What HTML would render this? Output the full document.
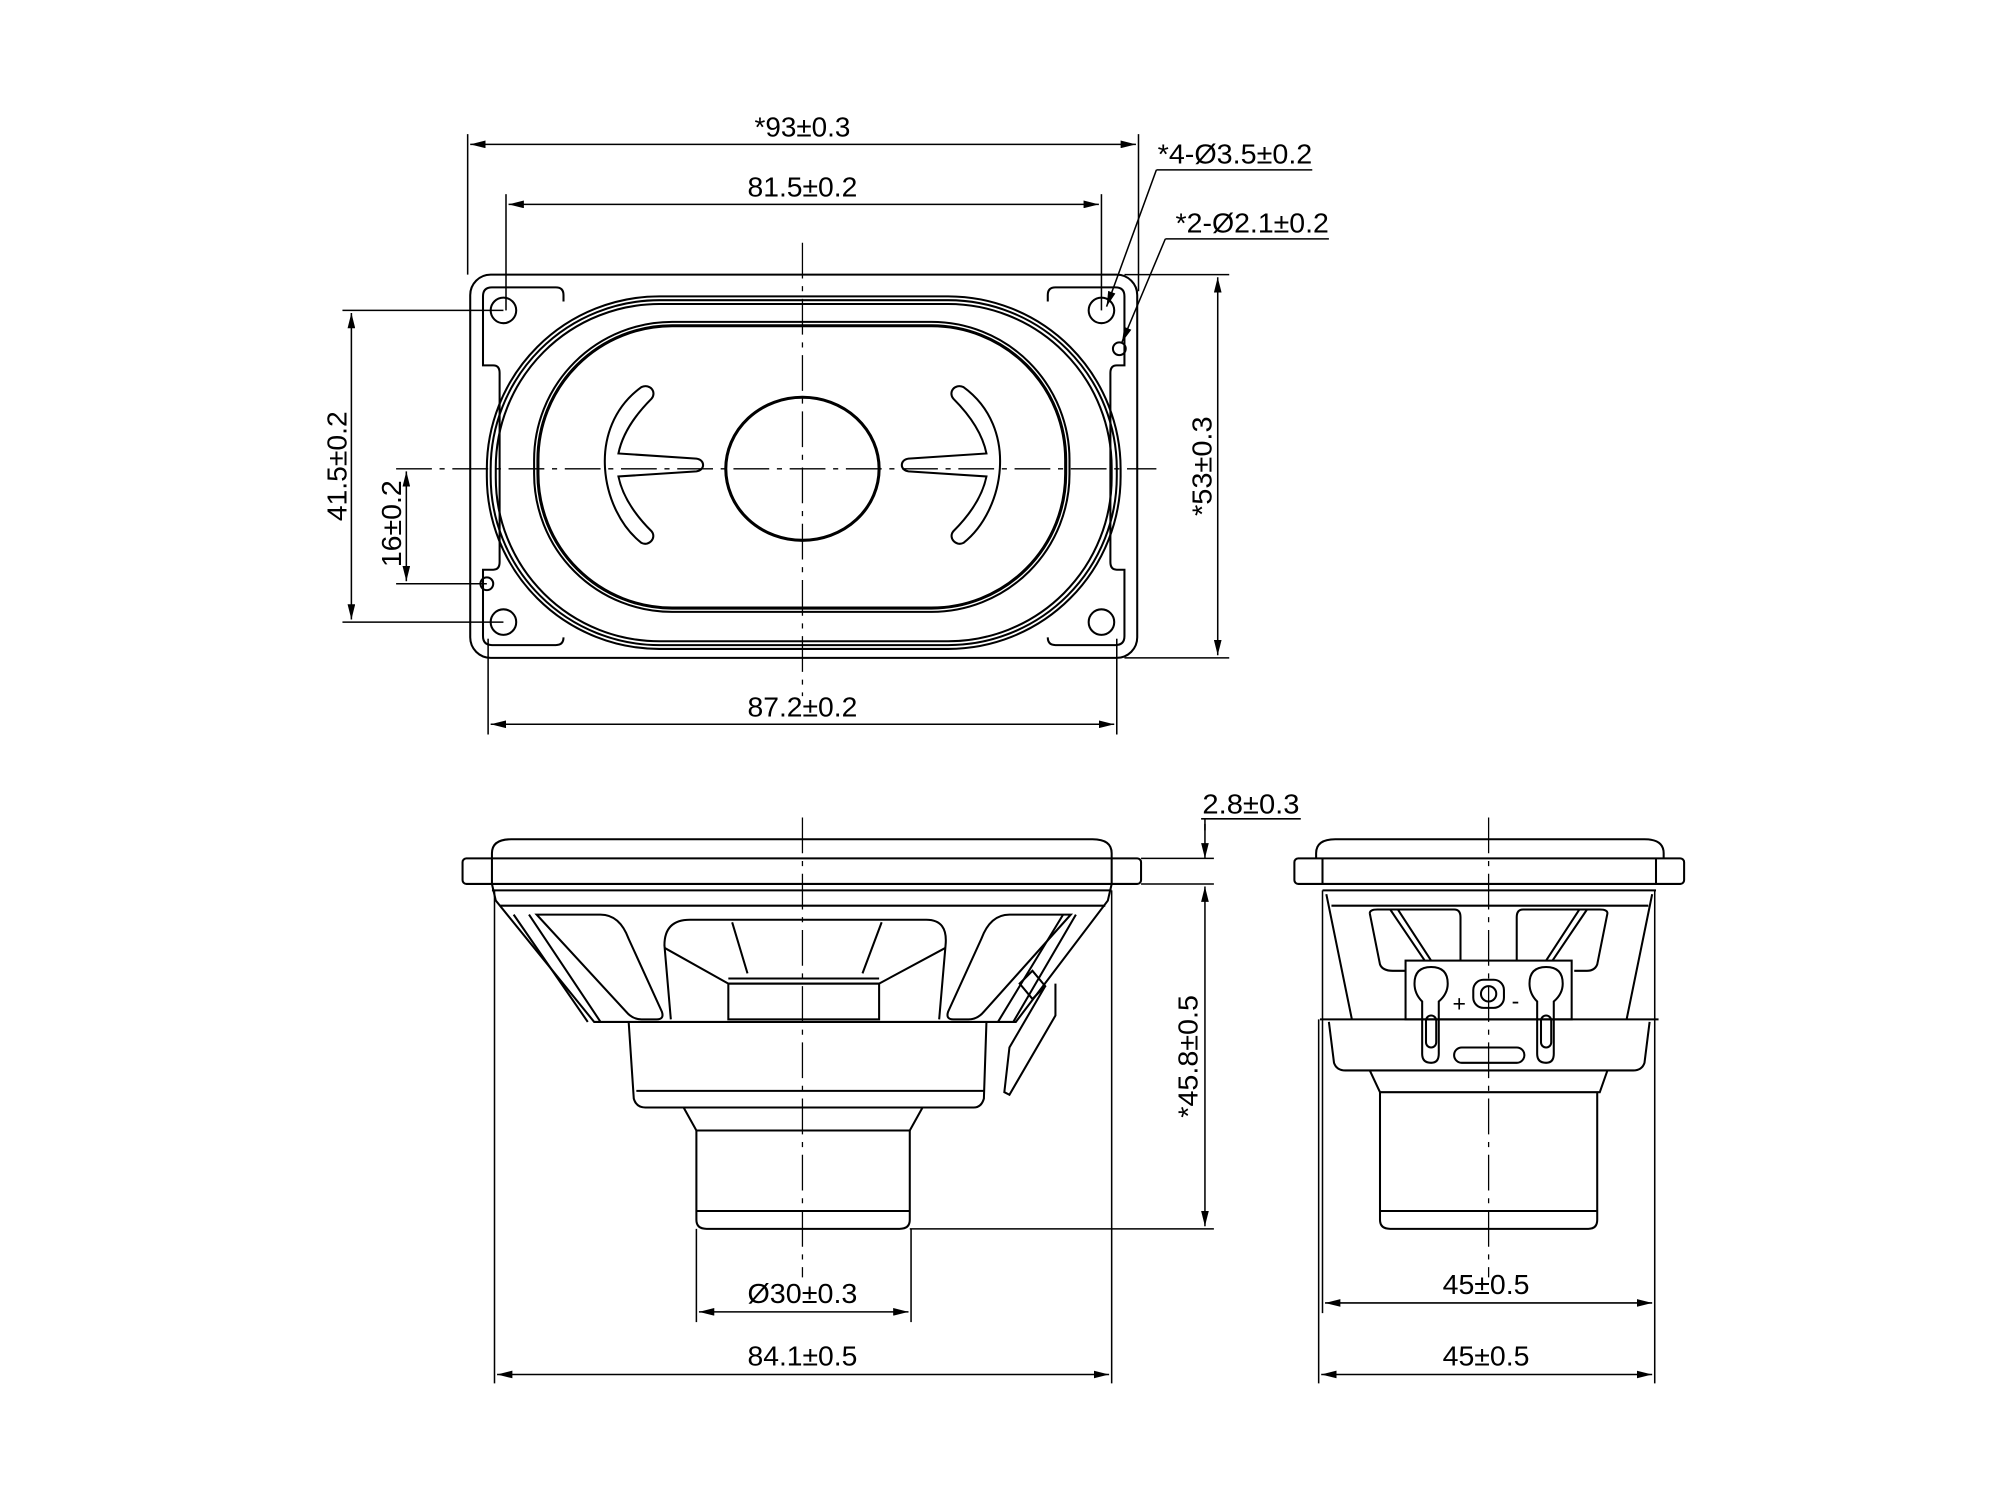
<!DOCTYPE html>
<html><head><meta charset="utf-8"><style>
html,body{margin:0;padding:0;background:#fff;}
svg{display:block;}
text{font-family:"Liberation Sans Narrow","Liberation Sans",sans-serif;font-size:22px;fill:#000;}
</style></head><body>
<svg width="2001" height="1492" viewBox="0 0 1566 1168" preserveAspectRatio="none" xmlns="http://www.w3.org/2000/svg">
<defs>
<marker id="a" viewBox="0 0 12 6" refX="12" refY="3" markerWidth="12" markerHeight="6" markerUnits="userSpaceOnUse" orient="auto-start-reverse"><path d="M0,0 L12,3 L0,6 z" fill="#000"/></marker>
</defs>
<g fill="none" stroke="#000" stroke-width="1.6">
<!-- ===== TOP VIEW ===== -->
<rect x="368" y="215" width="522" height="300" rx="16"/>
<path d="M441,236 L441,231 Q441,225 435,225 L385,225 Q378,225 378,232 L378,286 L386,286 Q391,286 391,292 L391,440 Q391,446 386,446 L378,446 L378,498 Q378,505 385,505 L435,505 Q441,505 441,499"/>
<path d="M820,236 L820,231 Q820,225 826,225 L873,225 Q880,225 880,232 L880,286 L874,286 Q869,286 869,292 L869,440 Q869,446 874,446 L880,446 L880,498 Q880,505 873,505 L826,505 Q820,505 820,499"/>
<rect x="381" y="232" width="496" height="276" rx="135"/>
<rect x="384" y="235" width="490" height="270" rx="132"/>
<rect x="388" y="238" width="482" height="264" rx="128"/>
<rect x="418" y="252" width="419" height="227" rx="108"/>
<rect x="421" y="255" width="413" height="221" rx="105" stroke-width="2.4"/>
<ellipse cx="628" cy="367" rx="60" ry="56" stroke-width="2.4"/>
<circle cx="394" cy="243" r="10"/><circle cx="862" cy="243" r="10"/>
<circle cx="394" cy="487" r="10"/><circle cx="862" cy="487" r="10"/>
<circle cx="876" cy="273" r="5"/><circle cx="381" cy="457" r="5"/>
<!-- slots -->
<path d="M502,303 C509,300 514,307 510,312 C496,326 487,340 484,355 L545,359 C552,360 552,368 545,369 L484,373 C487,388 496,402 510,416 C514,421 508,428 502,425 C470,400 458,335 502,303 Z"/>
<path d="M754,303 C747,300 742,307 746,312 C760,326 769,340 772,355 L711,359 C704,360 704,368 711,369 L772,373 C769,388 760,402 746,416 C742,421 748,428 754,425 C786,400 798,335 754,303 Z"/>
<!-- center lines -->
<g stroke-width="1" stroke-dasharray="28,6,4,6">
<line x1="310" y1="367" x2="905" y2="367"/>
<line x1="628" y1="190" x2="628" y2="545"/>
<line x1="628" y1="640" x2="628" y2="1000"/>
<line x1="1165" y1="640" x2="1165" y2="1000"/>
</g>
<!-- top dims -->
<g stroke-width="1.2">
<line x1="366" y1="105" x2="366" y2="215"/><line x1="891" y1="105" x2="891" y2="228"/>
<line x1="368" y1="113" x2="889" y2="113" marker-start="url(#a)" marker-end="url(#a)"/>
<line x1="396" y1="152" x2="396" y2="243"/><line x1="862" y1="152" x2="862" y2="243"/>
<line x1="398" y1="160" x2="860" y2="160" marker-start="url(#a)" marker-end="url(#a)"/>
<line x1="268" y1="243" x2="394" y2="243"/><line x1="268" y1="487" x2="394" y2="487"/>
<line x1="275" y1="245" x2="275" y2="485" marker-start="url(#a)" marker-end="url(#a)"/>
<line x1="310" y1="457" x2="381" y2="457"/>
<line x1="318" y1="369" x2="318" y2="455" marker-start="url(#a)" marker-end="url(#a)"/>
<line x1="880" y1="215" x2="962" y2="215"/><line x1="880" y1="515" x2="962" y2="515"/>
<line x1="953" y1="217" x2="953" y2="513" marker-start="url(#a)" marker-end="url(#a)"/>
<line x1="382" y1="500" x2="382" y2="575"/><line x1="874" y1="500" x2="874" y2="575"/>
<line x1="384" y1="567" x2="872" y2="567" marker-start="url(#a)" marker-end="url(#a)"/>
<line x1="905" y1="133" x2="1027" y2="133"/>
<polyline points="905,133 866,240" marker-end="url(#a)"/>
<line x1="912" y1="187" x2="1040" y2="187"/>
<polyline points="912,187 878,268" marker-end="url(#a)"/>
</g>
<!-- ===== SIDE VIEW LEFT ===== -->
<path d="M385,672 L385,668 Q385,657 400,657 L855,657 Q870,657 870,668 L870,672"/>
<rect x="362" y="672" width="531" height="20" rx="3"/>
<line x1="385" y1="672" x2="385" y2="692"/><line x1="870" y1="672" x2="870" y2="692"/>
<line x1="385" y1="697" x2="870" y2="697"/>
<path d="M385,692 L388,705 L465,800 L795,800 L867,705 L870,692"/>
<line x1="391" y1="709" x2="865" y2="709"/>
<path d="M402,716 L460,800 M414,716 L470,800"/>
<path d="M420,716 L470,716 Q485,716 492,735 L518,792 Q520,798 514,798 L502,798 Q495,798 490,792 Z"/>
<path d="M842,716 L793,800 M832,716 L781,800"/>
<path d="M838,716 L790,716 Q775,716 768,735 L742,792 Q740,798 746,798 L758,798 Q765,798 770,792 Z"/>
<path d="M798,770 L808,782 L818,772 L808,760 Z"/>
<path d="M818,772 L790,820 L786,855 L790,857 L826,795 L826,770"/>
<path d="M525,798 L520,740 Q520,720 540,720 L725,720 Q742,720 740,740 L735,798"/>
<path d="M520,742 L570,770 L688,770 L740,742 M573,722 L585,762 M690,722 L675,762"/>
<rect x="570" y="770" width="118" height="28"/>
<line x1="570" y1="766" x2="688" y2="766"/>
<path d="M492,800 L496,860 Q498,867 505,867 L762,867 Q768,867 770,860 L772,800"/>
<line x1="498" y1="854" x2="770" y2="854"/>
<path d="M535,867 L545,885 L712,885 L722,867"/>
<path d="M545,885 L545,955 Q545,962 553,962 L704,962 Q712,962 712,955 L712,885"/>
<line x1="545" y1="948" x2="712" y2="948"/>
<g stroke-width="1.2">
<line x1="893" y1="672" x2="950" y2="672"/><line x1="893" y1="692" x2="950" y2="692"/>
<line x1="943" y1="645" x2="943" y2="672" marker-end="url(#a)"/>
<line x1="943" y1="694" x2="943" y2="960" marker-start="url(#a)" marker-end="url(#a)"/>
<line x1="940" y1="641" x2="1018" y2="641"/><line x1="943" y1="641" x2="943" y2="650"/>
<line x1="712" y1="962" x2="950" y2="962"/>
<line x1="545" y1="962" x2="545" y2="1035"/><line x1="713" y1="962" x2="713" y2="1035"/>
<line x1="547" y1="1027" x2="711" y2="1027" marker-start="url(#a)" marker-end="url(#a)"/>
<line x1="387" y1="697" x2="387" y2="1083"/><line x1="870" y1="697" x2="870" y2="1083"/>
<line x1="389" y1="1076" x2="868" y2="1076" marker-start="url(#a)" marker-end="url(#a)"/>
</g>
<!-- ===== SIDE VIEW RIGHT ===== -->
<path d="M1030,672 L1030,668 Q1030,657 1045,657 L1287,657 Q1302,657 1302,668 L1302,672"/>
<rect x="1013" y="672" width="305" height="20" rx="3"/>
<line x1="1035" y1="672" x2="1035" y2="692"/><line x1="1296" y1="672" x2="1296" y2="692"/>
<line x1="1035" y1="697" x2="1296" y2="697"/>
<path d="M1038,700 L1058,798 M1293,700 L1273,798"/>
<line x1="1042" y1="709" x2="1290" y2="709"/>
<path d="M1072,715 Q1072,712 1078,712 L1138,712 Q1143,712 1143,718 L1143,752"/>
<path d="M1072,715 L1080,755 Q1082,760 1090,760 L1100,760"/>
<path d="M1088,712 L1115,752 M1094,712 L1120,752"/>
<path d="M1258,715 Q1258,712 1252,712 L1192,712 Q1187,712 1187,718 L1187,752 M1232,760 L1242,760 Q1248,760 1250,755 L1258,715"/>
<path d="M1242,712 L1215,752 M1236,712 L1210,752"/>
<rect x="1100" y="752" width="130" height="46"/>
<path d="M1107,770 Q1107,757 1120,757 Q1133,757 1133,770 Q1133,778 1126,784 L1126,825 Q1126,832 1120,832 Q1113,832 1113,825 L1113,784 Q1107,778 1107,770 Z"/>
<rect x="1116" y="795" width="8" height="25" rx="4"/>
<path d="M1197,770 Q1197,757 1210,757 Q1223,757 1223,770 Q1223,778 1216,784 L1216,825 Q1216,832 1210,832 Q1203,832 1203,825 L1203,784 Q1197,778 1197,770 Z"/>
<rect x="1206" y="795" width="8" height="25" rx="4"/>
<rect x="1153" y="767" width="24" height="22" rx="8"/>
<circle cx="1165" cy="778" r="6"/>
<rect x="1138" y="820" width="55" height="12" rx="6"/>
<line x1="1033" y1="798" x2="1298" y2="798"/>
<path d="M1040,800 L1044,832 Q1046,838 1053,838 L1278,838 Q1285,838 1287,832 L1291,800"/>
<path d="M1072,838 L1080,855 L1252,855 L1258,838"/>
<path d="M1080,855 L1080,955 Q1080,962 1088,962 L1243,962 Q1250,962 1250,955 L1250,855"/>
<line x1="1080" y1="948" x2="1250" y2="948"/>
<g stroke-width="1.2">
<line x1="1035" y1="697" x2="1035" y2="1028"/><line x1="1032" y1="798" x2="1032" y2="1083"/>
<line x1="1295" y1="697" x2="1295" y2="1083"/>
<line x1="1037" y1="1020" x2="1293" y2="1020" marker-start="url(#a)" marker-end="url(#a)"/>
<line x1="1034" y1="1076" x2="1293" y2="1076" marker-start="url(#a)" marker-end="url(#a)"/>
</g>
</g>
<!-- text -->
<g stroke="none">
<text x="628" y="107" text-anchor="middle" textLength="75" lengthAdjust="spacingAndGlyphs">*93±0.3</text>
<text x="628" y="154" text-anchor="middle" textLength="86" lengthAdjust="spacingAndGlyphs">81.5±0.2</text>
<text x="906" y="128" textLength="121" lengthAdjust="spacingAndGlyphs">*4-Ø3.5±0.2</text>
<text x="920" y="182" textLength="120" lengthAdjust="spacingAndGlyphs">*2-Ø2.1±0.2</text>
<text x="628" y="561" text-anchor="middle" textLength="86" lengthAdjust="spacingAndGlyphs">87.2±0.2</text>
<text transform="translate(271,365) rotate(-90)" text-anchor="middle" textLength="86" lengthAdjust="spacingAndGlyphs">41.5±0.2</text>
<text transform="translate(314,410) rotate(-90)" text-anchor="middle" textLength="68" lengthAdjust="spacingAndGlyphs">16±0.2</text>
<text transform="translate(948,365) rotate(-90)" text-anchor="middle" textLength="78" lengthAdjust="spacingAndGlyphs">*53±0.3</text>
<text x="979" y="637" text-anchor="middle" textLength="76" lengthAdjust="spacingAndGlyphs">2.8±0.3</text>
<text transform="translate(937,827) rotate(-90)" text-anchor="middle" textLength="96" lengthAdjust="spacingAndGlyphs">*45.8±0.5</text>
<text x="628" y="1020" text-anchor="middle" textLength="86" lengthAdjust="spacingAndGlyphs">Ø30±0.3</text>
<text x="628" y="1069" text-anchor="middle" textLength="86" lengthAdjust="spacingAndGlyphs">84.1±0.5</text>
<text x="1163" y="1013" text-anchor="middle" textLength="68" lengthAdjust="spacingAndGlyphs">45±0.5</text>
<text x="1163" y="1069" text-anchor="middle" textLength="68" lengthAdjust="spacingAndGlyphs">45±0.5</text>
<text x="1142" y="792" text-anchor="middle" style="font-size:18px">+</text>
<text x="1186" y="790" text-anchor="middle" style="font-size:18px">-</text>
</g>
</svg>
</body></html>
